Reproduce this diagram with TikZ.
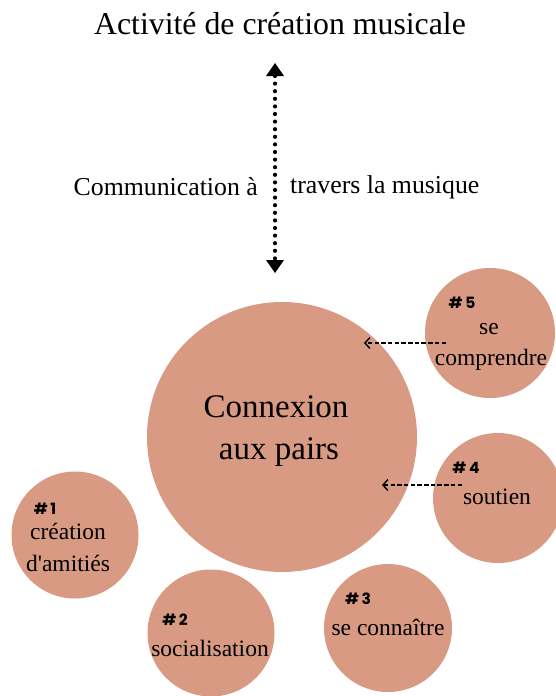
\documentclass[tikz,border=0pt]{standalone}
\usepackage{fontspec}
\setmainfont{Liberation Serif}
\newfontfamily\tagfont{Poppins}
\usetikzlibrary{arrows.meta}
\definecolor{bubble}{RGB}{216,154,130}
\tikzset{
  bubble/.style={circle, fill=bubble, draw=none, minimum size=#1, inner sep=0pt},
  tagtxt/.style={font=\tagfont\bfseries\fontsize{15.5}{18}\selectfont, inner sep=0pt},
  lbl/.style={font=\fontsize{23.5}{28}\selectfont, inner sep=0pt},
  dashlink/.style={line width=1.2pt, dash pattern=on 4.5pt off 2.2pt, -{Straight Barb[length=5pt,width=11pt,line width=1.4pt]}},
}
\begin{document}
\begin{tikzpicture}[x=1pt,y=-1pt]
\useasboundingbox (0,0) rectangle (556,696);

% title and vertical link
\node[font=\fontsize{31.8}{36}\selectfont, inner sep=0pt] (title) at (280,24) {Activité de création musicale};
\coordinate (top) at (275,63);
\coordinate (bot) at (275,273);
\draw[line width=4.2pt, line cap=round, dash pattern=on 0pt off 7.6pt,
      {Triangle[length=13pt,width=18pt,line cap=butt,line width=0pt]}-{Triangle[length=13pt,width=18pt,line cap=butt,line width=0pt]}] (top) -- (bot);
\node[font=\fontsize{25.8}{30}\selectfont, inner sep=0pt, anchor=east] (left) at (258,187) {Communication à};
\node[font=\fontsize{25.8}{30}\selectfont, inner sep=0pt, anchor=west] (right) at (290,187) {travers la musique};

% central bubble
\node[bubble=270pt] (core) at (282,437) {};
\node[font=\fontsize{33}{40}\selectfont, inner sep=0pt] (c1) at (276,407) {Connexion};
\node[font=\fontsize{33}{40}\selectfont, inner sep=0pt] (c2) at (279,452) {aux pairs};

% satellite bubbles
\node[bubble=130pt] (b5) at (490,333) {};
\node[bubble=130pt] (b4) at (498,498) {};
\node[bubble=127pt] (b1) at (75,535) {};
\node[bubble=127pt] (b2) at (211,633) {};
\node[bubble=128pt] (b3) at (388,628) {};

% labels of #5
\node[tagtxt] (t5) at (462,303) {\#\,5};
\node[lbl] (l5a) at (489,329) {se};
\node[lbl] (l5b) at (491,360) {comprendre};
% labels of #4
\node[tagtxt] (t4) at (466,468) {\#\,4};
\node[lbl] (l4) at (497,497) {soutien};
% labels of #1
\node[tagtxt] (t1) at (45,509) {\#\,1};
\node[lbl] (l1a) at (68,531) {création};
\node[lbl] (l1b) at (68,563) {d\textquotesingle amitiés};
% labels of #2
\node[tagtxt] (t2) at (175,620) {\#\,2};
\node[lbl] (l2) at (210,648) {socialisation};
% labels of #3
\node[tagtxt] (t3) at (358,599) {\#\,3};
\node[lbl] (l3) at (388,627) {se connaître};

% dashed links into the central bubble
\coordinate (s5) at (446,343);
\coordinate (e5) at (364,343);
\draw[dashlink] (s5) -- (e5);
\coordinate (s4) at (462,485);
\coordinate (e4) at (382,485);
\draw[dashlink] (s4) -- (e4);
\end{tikzpicture}
\end{document}
